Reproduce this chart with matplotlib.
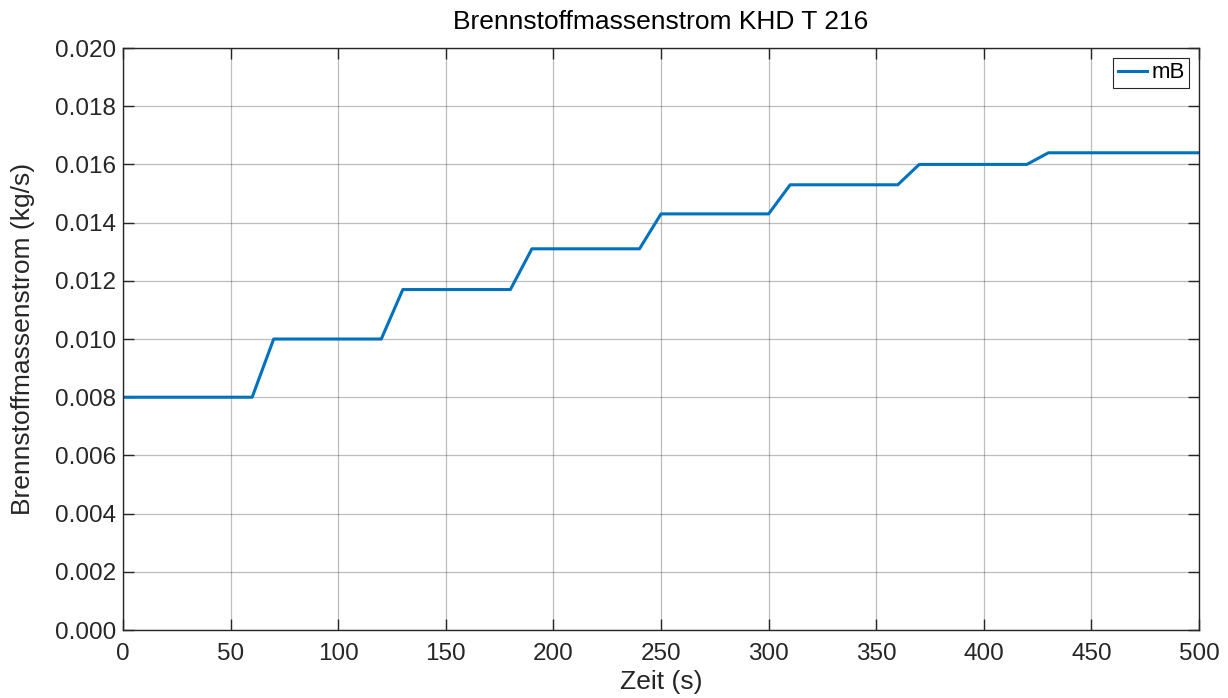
import matplotlib
matplotlib.use("Agg")
import matplotlib.pyplot as plt

# time points (s) and fuel mass flow (kg/s)
zeit = [0, 60, 70, 120, 130, 180, 190, 240, 250, 300, 310, 360, 370, 420, 430, 500]
mB = [0.008, 0.008, 0.010, 0.010, 0.0117, 0.0117, 0.0131, 0.0131,
      0.0143, 0.0143, 0.0153, 0.0153, 0.0160, 0.0160, 0.0164, 0.0164]

plt.rcParams['font.family'] = ['Liberation Sans', 'DejaVu Sans']

fig = plt.figure(figsize=(12.28, 6.98), dpi=100)
ax = fig.add_axes([0.1002, 0.0974, 0.8762, 0.8338])

ax.plot(zeit, mB, color='#0072BD', lw=2.2, label='mB')

ax.set_xlim(0, 500)
ax.set_ylim(0, 0.02)
ax.set_xticks(range(0, 501, 50))
ax.set_yticks([i * 0.002 for i in range(11)])
ax.yaxis.set_major_formatter(matplotlib.ticker.FormatStrFormatter('%.3f'))

ax.grid(True, color='#262626', alpha=0.3, lw=0.9)
ax.set_axisbelow(True)
ax.tick_params(direction='in', length=8, width=1, labelsize=17.5,
               top=True, right=True, colors='#262626', pad=5)
ax.tick_params(axis='x', pad=9)
for s in ax.spines.values():
    s.set_color('#262626')
    s.set_linewidth(1)

ax.set_xlabel('Zeit (s)', fontsize=19, color='#262626', labelpad=4)
ax.set_ylabel('Brennstoffmassenstrom (kg/s)', fontsize=19, color='#262626', labelpad=14)
ax.set_title('Brennstoffmassenstrom KHD T 216', fontsize=19, color='black', pad=14)

leg = ax.legend(loc='upper right', fontsize=16, frameon=True, fancybox=False,
                handlelength=1.3, handletextpad=0.2, borderpad=0.2,
                borderaxespad=0.45)
leg.get_frame().set_edgecolor('#262626')
leg.get_frame().set_linewidth(0.8)
leg.get_frame().set_alpha(1)

fig.savefig('out.png', dpi=100)
